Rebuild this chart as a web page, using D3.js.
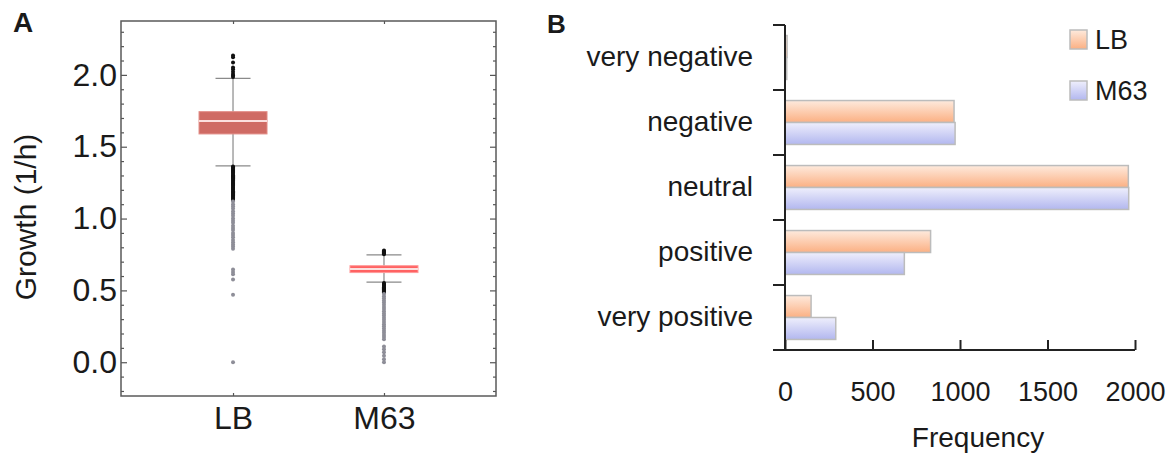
<!DOCTYPE html>
<html>
  <head>
    <style>
      body {
        margin: 0;
        background: #fff;
        font-family: "Liberation Sans", Arial, sans-serif;
      }
      text { fill: #1a1a1a; }
    </style>
  </head>
  <body>
    <svg id="chart" width="1176" height="454"></svg>
    <script src="https://d3js.org/d3.v7.min.js"></script>
    <script>
    // ---- panel A data: growth rate box plots ----
    var groups = ["LB", "M63"];
    var q1 = [1.589, 0.624],
        median = [1.679, 0.649],
        q3 = [1.744, 0.672],
        whiskerLow = [1.366, 0.557],
        whiskerHigh = [1.976, 0.747];
    var lbOutliers = [2.135, 2.122, 2.086, 2.052, 2.04, 2.022, 2.006, 1.995, 1.985,
      1.362, 1.355, 1.347, 1.34, 1.332, 1.325, 1.318, 1.31, 1.302, 1.295, 1.288, 1.28,
      1.272, 1.265, 1.257, 1.25, 1.242, 1.235, 1.228, 1.22, 1.212, 1.205, 1.198, 1.19,
      1.183, 1.175, 1.168, 1.16, 1.152, 1.145, 1.138, 1.13,
      1.118, 1.1, 1.085, 1.07, 1.05, 1.035, 1.02, 1.0, 0.985, 0.97, 0.95, 0.935,
      0.92, 0.9, 0.885, 0.87, 0.85, 0.835, 0.82, 0.805, 0.79,
      0.645, 0.628, 0.612, 0.575, 0.47, 0.0];
    var m63Outliers = [0.778, 0.772, 0.765, 0.758, 0.752,
      0.552, 0.545, 0.538, 0.53, 0.522, 0.515, 0.508, 0.5, 0.493, 0.486,
      0.475, 0.46, 0.445, 0.43, 0.415, 0.4, 0.385, 0.37, 0.355, 0.34, 0.325, 0.31,
      0.295, 0.28, 0.265, 0.25, 0.235, 0.22, 0.205, 0.19, 0.175, 0.16,
      0.11, 0.09, 0.07, 0.045, 0.02, 0.0];
    var outliers = [lbOutliers, m63Outliers];
    var boxFill = ["#cf6b64", "#ff6262"],
        boxStroke = ["#e28e88", "#ff9a9a"];
    var yTicksA = [0, 0.5, 1, 1.5, 2];

    // ---- panel B data: effect frequencies ----
    var categories = ["very negative", "negative", "neutral", "positive", "very positive"];
    var series = ["LB", "M63"];
    var lbFreq = [12, 966, 1962, 832, 149];
    var m63Freq = [10, 972, 1964, 682, 290];
    var xTicksB = [0, 500, 1000, 1500, 2000];

    var svg = d3.select("#chart");

    // ================= panel A =================
    var frame = {left: 121, right: 496, top: 21, bottom: 396};
    var xA = d3.scalePoint().domain(groups).range([frame.left, frame.right]).padding(0.742);
    var yA = d3.scaleLinear().domain([-0.235, 2.375]).range([frame.bottom, frame.top]);
    var minorA = d3.range(-0.2, 2.35, 0.1).filter(v => Math.abs(v * 2 - Math.round(v * 2)) > 0.01);

    var gA = svg.append("g");

    function styleAxis(sel) {
      sel.select(".domain").remove();
      sel.selectAll(".tick line").attr("stroke", "#555").attr("stroke-width", 1.2);
    }

    // left / right ticks, inside the frame
    gA.append("g").attr("transform", "translate(" + frame.left + ",0)")
      .call(d3.axisLeft(yA).tickValues(yTicksA).tickFormat(d3.format(".1f"))
        .tickSizeInner(-6).tickSizeOuter(0).tickPadding(4))
      .call(styleAxis)
      .call(g => g.selectAll("text").attr("font-size", 32).attr("font-family", "Liberation Sans, Arial, sans-serif").style("fill", "#1a1a1a"));
    gA.append("g").attr("transform", "translate(" + frame.left + ",0)")
      .call(d3.axisLeft(yA).tickValues(minorA).tickFormat("").tickSizeInner(-3).tickSizeOuter(0))
      .call(styleAxis);
    gA.append("g").attr("transform", "translate(" + frame.right + ",0)")
      .call(d3.axisRight(yA).tickValues(yTicksA).tickFormat("").tickSizeInner(-6).tickSizeOuter(0))
      .call(styleAxis);
    gA.append("g").attr("transform", "translate(" + frame.right + ",0)")
      .call(d3.axisRight(yA).tickValues(minorA).tickFormat("").tickSizeInner(-3).tickSizeOuter(0))
      .call(styleAxis);
    gA.append("g").attr("transform", "translate(0," + frame.bottom + ")")
      .call(d3.axisBottom(xA).tickSizeInner(-3).tickSizeOuter(0).tickPadding(10))
      .call(styleAxis)
      .call(g => g.selectAll("text").attr("font-size", 32).attr("font-family", "Liberation Sans, Arial, sans-serif").style("fill", "#1a1a1a"));
    gA.append("g").attr("transform", "translate(0," + frame.top + ")")
      .call(d3.axisTop(xA).tickFormat("").tickSizeInner(-3).tickSizeOuter(0))
      .call(styleAxis);

    gA.append("rect")
      .attr("x", frame.left).attr("y", frame.top)
      .attr("width", frame.right - frame.left).attr("height", frame.bottom - frame.top)
      .attr("fill", "none").attr("stroke", "#5a5a5a").attr("stroke-width", 1.5);

    var boxW = 68, capW = 35;
    var boxes = gA.selectAll(".box").data(groups).join("g").attr("class", "box");

    // whisker stems and caps
    boxes.append("line")
      .attr("x1", d => xA(d)).attr("x2", d => xA(d))
      .attr("y1", (d, i) => yA(whiskerLow[i])).attr("y2", (d, i) => yA(whiskerHigh[i]))
      .attr("stroke", "#8a8a8a").attr("stroke-width", 1.2);
    boxes.selectAll(".cap").data((d, i) => [whiskerLow[i], whiskerHigh[i]].map(v => [d, v]))
      .join("line").attr("class", "cap")
      .attr("x1", d => xA(d[0]) - capW / 2).attr("x2", d => xA(d[0]) + capW / 2)
      .attr("y1", d => yA(d[1])).attr("y2", d => yA(d[1]))
      .attr("stroke", "#8a8a8a").attr("stroke-width", 1.3);

    // outliers: black within 3 IQR, grey beyond
    boxes.selectAll("circle").data((d, i) => outliers[i].map(v => {
        var iqr = q3[i] - q1[i];
        var far = v < q1[i] - 3 * iqr || v > q3[i] + 3 * iqr;
        return {g: d, v: v, far: far};
      }))
      .join("circle")
      .attr("cx", d => xA(d.g)).attr("cy", d => yA(d.v)).attr("r", 2)
      .attr("fill", d => d.far ? "#8e8e98" : "#111");

    boxes.append("rect")
      .attr("x", d => xA(d) - boxW / 2).attr("width", boxW)
      .attr("y", (d, i) => yA(q3[i])).attr("height", (d, i) => yA(q1[i]) - yA(q3[i]))
      .attr("fill", (d, i) => boxFill[i]).attr("stroke", (d, i) => boxStroke[i]).attr("stroke-width", 1);
    boxes.append("line")
      .attr("x1", d => xA(d) - boxW / 2).attr("x2", d => xA(d) + boxW / 2)
      .attr("y1", (d, i) => yA(median[i])).attr("y2", (d, i) => yA(median[i]))
      .attr("stroke", "#fbe0de").attr("stroke-width", 2);

    gA.append("text")
      .attr("transform", "translate(25,217) rotate(-90)")
      .attr("text-anchor", "middle").attr("dominant-baseline", "central")
      .attr("font-size", 30).text("Growth (1/h)");
    gA.append("text").attr("x", 13).attr("y", 32)
      .attr("font-size", 28).attr("font-weight", "bold").text("A");

    // ================= panel B =================
    var xB = d3.scaleLinear().domain([0, 2000]).range([785, 1135]);
    var yB = d3.scaleBand().domain(categories).range([25, 350]);
    var ySub = d3.scaleBand().domain(series).range([0, yB.bandwidth()]).paddingOuter(0.48);
    var values = {LB: lbFreq, M63: m63Freq};

    var gB = svg.append("g");
    var defs = svg.append("defs");
    var grad = [
      {id: "gradLB", top: "#feeadd", bottom: "#fbb083"},
      {id: "gradM63", top: "#efeffc", bottom: "#b2b7ef"}
    ];
    grad.forEach(g => {
      var lg = defs.append("linearGradient").attr("id", g.id)
        .attr("x1", 0).attr("y1", 0).attr("x2", 0).attr("y2", 1);
      lg.append("stop").attr("offset", "0%").attr("stop-color", g.top);
      lg.append("stop").attr("offset", "100%").attr("stop-color", g.bottom);
    });

    gB.selectAll(".grp").data(categories).join("g").attr("class", "grp")
      .attr("transform", d => "translate(0," + yB(d) + ")")
      .selectAll("rect").data((d, i) => series.map(s => ({s: s, v: values[s][i]})))
      .join("rect")
      .attr("x", xB(0)).attr("y", d => ySub(d.s))
      .attr("width", d => xB(d.v) - xB(0)).attr("height", ySub.bandwidth())
      .attr("fill", d => "url(#grad" + d.s + ")")
      .attr("stroke", "#bcbcbc").attr("stroke-width", 1.5);

    // x axis with inward ticks
    gB.append("g").attr("transform", "translate(0,350)")
      .call(d3.axisBottom(xB).tickValues(xTicksB).tickFormat(d3.format("d"))
        .tickSizeInner(-10).tickSizeOuter(0).tickPadding(32))
      .call(g => g.select(".domain").remove())
      .call(g => g.selectAll(".tick line").attr("stroke", "#222").attr("stroke-width", 2))
      .call(g => g.selectAll("text").attr("font-size", 27).attr("font-family", "Liberation Sans, Arial, sans-serif").style("fill", "#1a1a1a"));
    gB.append("line")
      .attr("x1", xB(0) - 12).attr("x2", xB(2000)).attr("y1", 350).attr("y2", 350)
      .attr("stroke", "#222").attr("stroke-width", 2);

    // y axis: labels at band centres, ticks at band edges
    gB.append("g").attr("transform", "translate(" + xB(0) + ",0)")
      .call(d3.axisLeft(yB).tickSize(0).tickPadding(32))
      .call(g => g.select(".domain").remove())
      .call(g => g.selectAll("text").attr("font-size", 28).attr("font-family", "Liberation Sans, Arial, sans-serif").style("fill", "#1a1a1a"));
    gB.selectAll(".ytick").data(categories).join("line").attr("class", "ytick")
      .attr("x1", xB(0) - 12).attr("x2", xB(0))
      .attr("y1", d => yB(d)).attr("y2", d => yB(d))
      .attr("stroke", "#222").attr("stroke-width", 2);
    gB.append("line")
      .attr("x1", xB(0)).attr("x2", xB(0)).attr("y1", 25).attr("y2", 350)
      .attr("stroke", "#222").attr("stroke-width", 2);

    gB.append("text").attr("x", 978).attr("y", 437)
      .attr("text-anchor", "middle").attr("dominant-baseline", "central")
      .attr("font-size", 28).text("Frequency");

    // legend
    var legend = gB.selectAll(".leg").data(series).join("g").attr("class", "leg")
      .attr("transform", (d, i) => "translate(1070," + (30 + i * 51) + ")");
    legend.append("rect").attr("width", 17).attr("height", 19)
      .attr("fill", d => "url(#grad" + d + ")").attr("stroke", "#bcbcbc").attr("stroke-width", 1.5);
    legend.append("text").attr("x", 25).attr("y", 10)
      .attr("dominant-baseline", "central").attr("font-size", 27).text(d => d);

    gB.append("text").attr("x", 547).attr("y", 33)
      .attr("font-size", 26).attr("font-weight", "bold").text("B");
    </script>
  </body>
</html>
